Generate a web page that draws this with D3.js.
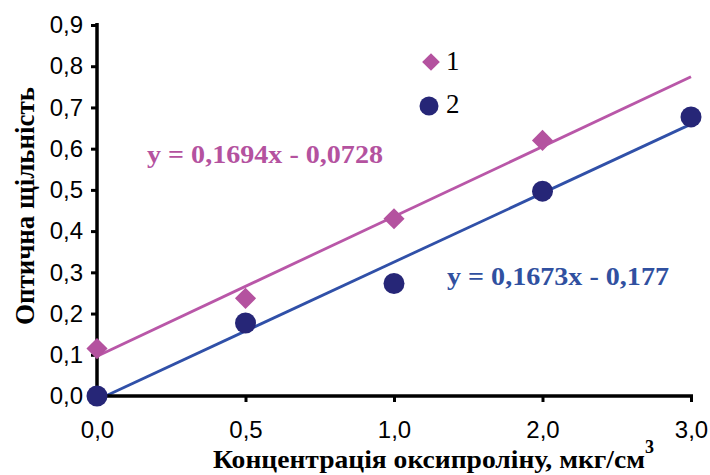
<!DOCTYPE html>
<html>
<head>
<meta charset="utf-8">
<script src="https://d3js.org/d3.v7.min.js"></script>
<style>
body { margin: 0; background: #fff; }
svg { display: block; }
.tick text { font-family: "Liberation Sans", Arial, sans-serif; font-size: 24px; fill: #000; }
.ttl { font-family: "Liberation Serif", "Times New Roman", serif; font-weight: bold; }
</style>
</head>
<body>
<script>
// data
var categories = ["0,0", "0,5", "1,0", "2,0", "3,0"];
var series1 = [0.115, 0.237, 0.43, 0.62, null];
var series2 = [0.0, 0.177, 0.273, 0.497, 0.677];
var yTicks = [0, 0.1, 0.2, 0.3, 0.4, 0.5, 0.6, 0.7, 0.8, 0.9];
// trendlines (Excel, x = category index 1..n)
var trend1 = {slope: 0.1694, icpt: -0.0728, label: "y = 0,1694x - 0,0728"};
var trend2 = {slope: 0.1673, icpt: -0.177, label: "y = 0,1673x - 0,177"};
var legendNames = ["1", "2"];

var W = 710, H = 475;
var pink = "#b4529f", pinkLine = "#b957a8", navy = "#262677", blueLine = "#3050a8", blueText = "#3050a0";

var svg = d3.select("body").append("svg").attr("width", W).attr("height", H);

var x = d3.scalePoint().domain(categories).range([97, 691]);
var y = d3.scaleLinear().domain([0, 0.9]).range([396, 25]);

var fmt = function(d) { return d3.format(".1f")(d).replace(".", ","); };

// trendlines
function trendLine(t, color) {
  var pts = categories.map(function(c, i) { return [x(c), y(t.slope * (i + 1) + t.icpt)]; });
  svg.append("line")
    .attr("x1", pts[0][0]).attr("y1", pts[0][1])
    .attr("x2", pts[pts.length - 1][0]).attr("y2", pts[pts.length - 1][1])
    .attr("stroke", color).attr("stroke-width", 2.8);
}
trendLine(trend1, pinkLine);
trendLine(trend2, blueLine);

// axes
var gy = svg.append("g").attr("transform", "translate(97,0)")
  .call(d3.axisLeft(y).tickValues(yTicks).tickSize(6).tickPadding(8).tickFormat(fmt));
var gx = svg.append("g").attr("transform", "translate(0,396)")
  .call(d3.axisBottom(x).tickSize(6).tickPadding(19));
[gx, gy].forEach(function(g) {
  g.select(".domain").attr("stroke", "#000").attr("stroke-width", 3.5);
  g.selectAll(".tick line").attr("stroke", "#000").attr("stroke-width", 3);
});
gx.select(".domain").attr("d", "M95,0H693");
gy.select(".domain").attr("d", "M0,23V398");

// markers
var diamond = d3.symbol().type(d3.symbolDiamond2).size(285);
svg.selectAll(".s1").data(series1.map(function(v, i) { return {c: categories[i], v: v}; })
  .filter(function(d) { return d.v !== null; }))
  .enter().append("path")
  .attr("d", diamond)
  .attr("transform", function(d) { return "translate(" + x(d.c) + "," + y(d.v) + ")"; })
  .attr("fill", pink);
svg.selectAll(".s2").data(series2.map(function(v, i) { return {c: categories[i], v: v}; }))
  .enter().append("circle")
  .attr("cx", function(d) { return x(d.c); })
  .attr("cy", function(d) { return y(d.v); })
  .attr("r", 10.5)
  .attr("fill", navy);

// legend
svg.append("path").attr("d", d3.symbol().type(d3.symbolDiamond2).size(200)())
  .attr("transform", "translate(431,62)").attr("fill", pink);
svg.append("circle").attr("cx", 429).attr("cy", 106).attr("r", 9.5).attr("fill", navy);
svg.selectAll(".leg").data(legendNames).enter().append("text")
  .attr("x", 446).attr("y", function(d, i) { return 70 + i * 43; })
  .attr("font-family", "Liberation Serif, Times New Roman, serif")
  .attr("font-size", 27).text(function(d) { return d; });

// equations
svg.append("text").attr("class", "ttl").attr("x", 147).attr("y", 163)
  .attr("font-size", 25).attr("fill", pink)
  .attr("textLength", 236).attr("lengthAdjust", "spacingAndGlyphs").text(trend1.label);
svg.append("text").attr("class", "ttl").attr("x", 447).attr("y", 285)
  .attr("font-size", 25).attr("fill", blueText)
  .attr("textLength", 222).attr("lengthAdjust", "spacingAndGlyphs").text(trend2.label);

// axis titles
svg.append("text").attr("class", "ttl")
  .attr("transform", "translate(34,206) rotate(-90)")
  .attr("text-anchor", "middle").attr("font-size", 27)
  .attr("textLength", 238).attr("lengthAdjust", "spacingAndGlyphs")
  .text("Оптична щільність");
var xt = svg.append("text").attr("class", "ttl").attr("x", 213).attr("y", 468).attr("font-size", 26);
xt.append("tspan").attr("textLength", 432).attr("lengthAdjust", "spacingAndGlyphs")
  .text("Концентрація оксипроліну, мкг/см");
xt.append("tspan").attr("dy", -15).attr("font-size", 18).text("3");
</script>
</body>
</html>
